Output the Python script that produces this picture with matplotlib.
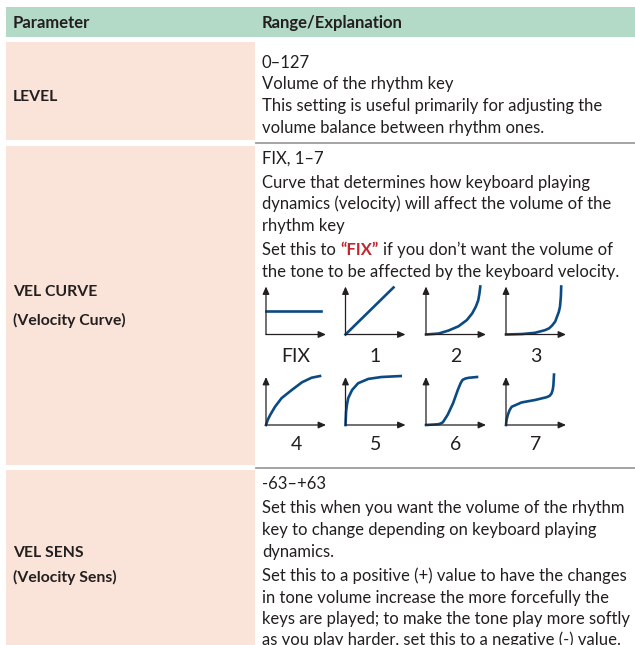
import matplotlib.pyplot as plt
from matplotlib.patches import Rectangle

# Figure size in pixels (dpi 100)
W, H = 635, 645

plt.rcParams['font.family'] = ['Lato', 'DejaVu Sans']

INK = '#231f20'
GREEN = '#b3dac6'
PEACH = '#fae3d8'
RULE = '#9d9d9d'
CURVE = '#0b4a83'
RED = '#c1272d'

# Table contents
headers = ['Parameter', 'Range/Explanation']
param_names = [['LEVEL'],
               ['VEL CURVE', '(Velocity Curve)'],
               ['VEL SENS', '(Velocity Sens)']]
explanations = [
    [['0–127'],
     ['Volume of the rhythm key'],
     ['This setting is useful primarily for adjusting the',
      'volume balance between rhythm ones.']],
    [['FIX, 1–7'],
     ['Curve that determines how keyboard playing',
      'dynamics (velocity) will affect the volume of the',
      'rhythm key'],
     ['Set this to “FIX” if you don’t want the volume of',
      'the tone to be affected by the keyboard velocity.']],
    [['-63–+63'],
     ['Set this when you want the volume of the rhythm',
      'key to change depending on keyboard playing',
      'dynamics.'],
     ['Set this to a positive (+) value to have the changes',
      'in tone volume increase the more forcefully the',
      'keys are played; to make the tone play more softly',
      'as you play harder, set this to a negative (-) value.']],
]
highlight = '“FIX”'

# Velocity curves (fraction of x axis, fraction of y axis)
curve_labels = ['FIX', '1', '2', '3', '4', '5', '6', '7']
fix_x = [0, 0.92]
fix_y = [0.48, 0.48]
c1_x = [0, 0.80]
c1_y = [0, 0.98]
c2_x = [0, 0.21, 0.37, 0.54, 0.68, 0.77, 0.83, 0.87, 0.89, 0.905]
c2_y = [0, 0.02, 0.08, 0.17, 0.30, 0.44, 0.58, 0.71, 0.85, 1.00]
c3_x = [0, 0.27, 0.48, 0.65, 0.72, 0.77, 0.82, 0.85, 0.88, 0.90, 0.915, 0.92]
c3_y = [0, 0.01, 0.035, 0.09, 0.13, 0.19, 0.27, 0.37, 0.47, 0.58, 0.80, 1.00]
c4_x = [0, 0.03, 0.07, 0.15, 0.26, 0.43, 0.60, 0.76, 0.90]
c4_y = [0, 0.11, 0.21, 0.38, 0.56, 0.73, 0.89, 0.985, 1.02]
c5_x = [0, 0.005, 0.01, 0.025, 0.045, 0.11, 0.21, 0.38, 0.60, 0.92]
c5_y = [0, 0.14, 0.28, 0.43, 0.56, 0.73, 0.87, 0.96, 1.00, 1.02]
c6_x = [0, 0.20, 0.24, 0.28, 0.36, 0.45, 0.53, 0.58, 0.61, 0.66, 0.72, 0.85]
c6_y = [0, 0.015, 0.03, 0.055, 0.21, 0.45, 0.73, 0.88, 0.94, 0.97, 0.985, 1.00]
c7_x = [0, 0.01, 0.03, 0.06, 0.095, 0.26, 0.48, 0.68, 0.73, 0.76, 0.78, 0.79, 0.80]
c7_y = [0, 0.11, 0.21, 0.31, 0.38, 0.47, 0.52, 0.58, 0.61, 0.66, 0.74, 0.83, 1.05]
curves = [(fix_x, fix_y), (c1_x, c1_y), (c2_x, c2_y), (c3_x, c3_y),
          (c4_x, c4_y), (c5_x, c5_y), (c6_x, c6_y), (c7_x, c7_y)]

# Layout (pixels)
row_spans = [(42, 140), (146, 465), (470, H + 2)]
rules = [142.5, 467.5]
first_base = [67.5, 164, 489]
line_step = [21.7, 21.5, 21.5]
para_gap = [0, 2.5, 3]
param_base = [[101], [296, 325], [557, 582]]
origin_x = [266, 345.5, 426, 506]
origin_y = [334.5, 425]
label_base = [362, 450]
BODY = 12
HEAD = 12
PARAM = 11.3

fig = plt.figure(figsize=(W / 100, H / 100), dpi=100)
ax = fig.add_axes([0, 0, 1, 1])
ax.set_xlim(0, W)
ax.set_ylim(H, 0)
ax.axis('off')
renderer = fig.canvas.get_renderer()

# backgrounds
ax.add_patch(Rectangle((6, 7), W - 6, 30, color=GREEN, lw=0))
for top, bottom in row_spans:
    ax.add_patch(Rectangle((6, top), 249, bottom - top, color=PEACH, lw=0))
for y in rules:
    ax.plot([256, W], [y, y], color=RULE, lw=1.3)

ax.text(13, 28, headers[0], fontsize=HEAD, fontweight='bold', color=INK, va='baseline')
ax.text(262, 28, headers[1], fontsize=HEAD, fontweight='bold', color=INK, va='baseline')


def width_of(s, **kw):
    t = ax.text(0, 0, s, **kw)
    w = t.get_window_extent(renderer).width
    t.remove()
    return w


body_kw = dict(fontsize=BODY, color=INK, va='baseline')
red_kw = dict(fontsize=BODY, color=RED, fontweight='bold', va='baseline')
space = width_of('x x', **body_kw) - width_of('xx', **body_kw)

for r, paras in enumerate(explanations):
    y = first_base[r]
    for p, para in enumerate(paras):
        if p > 0:
            y += para_gap[r]
        for line in para:
            if highlight in line:
                before, after = line.split(highlight)
                x = 262
                for part, kw in [(before.strip(), body_kw), (highlight, red_kw), (after.strip(), body_kw)]:
                    ax.text(x, y, part, **kw)
                    x += width_of(part, **kw) + space
            else:
                ax.text(262, y, line, **body_kw)
            y += line_step[r]

for r, names in enumerate(param_names):
    for name, yb in zip(names, param_base[r]):
        ax.text(13, yb, name, fontsize=PARAM, fontweight='bold', color=INK, va='baseline')

# velocity curve panels
for i, (xs, ys) in enumerate(curves):
    row, col = divmod(i, 4)
    ox, oy = origin_x[col], origin_y[row]
    iax = fig.add_axes([ox / W, 1 - oy / H, 60 / W, 48 / H])
    iax.set_xlim(0, 1)
    iax.set_ylim(0, 1)
    iax.axis('off')
    arrow = dict(arrowstyle='-|>,head_length=0.45,head_width=0.2', color=INK,
                 lw=0.9, shrinkA=0, shrinkB=0)
    iax.annotate('', xy=(1, 0), xytext=(0, 0), arrowprops=arrow, annotation_clip=False)
    iax.annotate('', xy=(0, 1), xytext=(0, 0), arrowprops=arrow, annotation_clip=False)
    iax.plot(xs, ys, color=CURVE, lw=1.9, clip_on=False, solid_joinstyle='round')
    ax.text(ox + 30, label_base[row], curve_labels[i], fontsize=14, color=INK,
            ha='center', va='baseline')

fig.savefig('out.png', dpi=100)
